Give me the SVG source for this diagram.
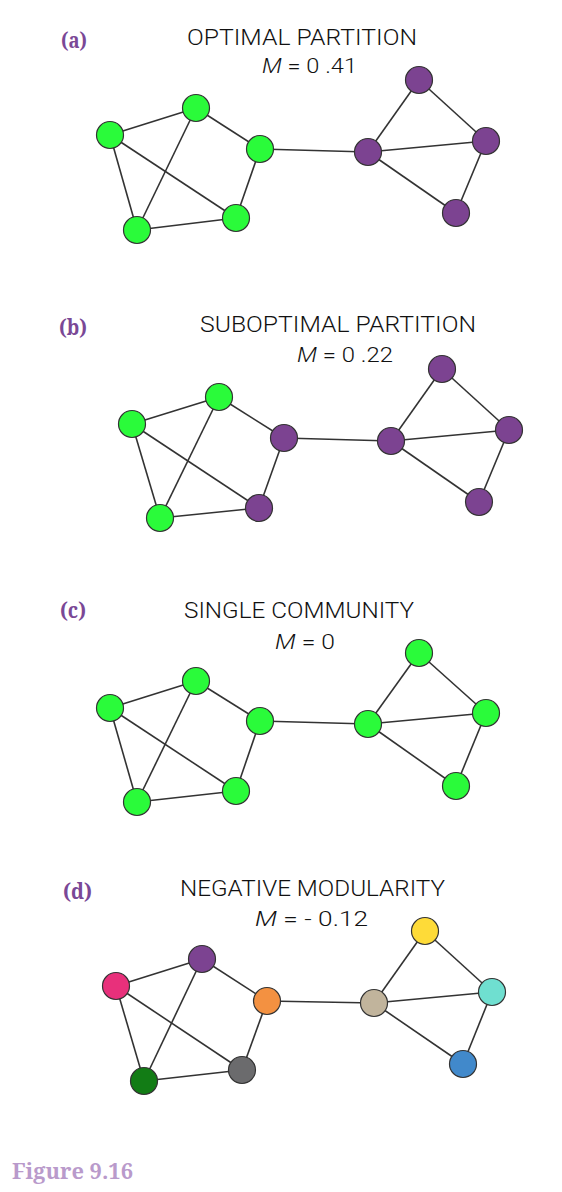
<svg xmlns="http://www.w3.org/2000/svg" width="562" height="1192" viewBox="0 0 562 1192">
<style>
.t{font-family:Roboto,"Liberation Sans",sans-serif;font-weight:300;font-size:22px;fill:#111}
.m{font-family:Roboto,"Liberation Sans",sans-serif;font-weight:300;font-size:21px;fill:#111}
.m tspan.i{font-style:italic}
.lab{font-family:"Noto Serif","DejaVu Serif","Liberation Serif",serif;font-weight:bold;font-size:22px;fill:#7a4896}
.fig{font-family:"Noto Serif","DejaVu Serif","Liberation Serif",serif;font-weight:bold;font-size:22px;fill:#b99acb}
.e line{stroke:#333;stroke-width:1.6}
circle{stroke:#333;stroke-width:1.2}
.g{fill:#2afb3a}.p{fill:#7c4391}
</style>
<rect width="562" height="1192" fill="#fff"/>

<!-- Panel a -->
<g id="panel-a-text">
<text class="lab" x="61" y="48" textLength="26" lengthAdjust="spacingAndGlyphs">(a)</text>
<text class="t" x="187" y="45" textLength="230" lengthAdjust="spacingAndGlyphs">OPTIMAL PARTITION</text>
<text class="m" x="262" y="73" textLength="95" lengthAdjust="spacingAndGlyphs"><tspan class="i">M</tspan> = 0 .41</text>
</g>
<g id="edges-a" class="e">
<line x1="110" y1="135" x2="196" y2="108"/><line x1="110" y1="135" x2="236" y2="218"/><line x1="110" y1="135" x2="137" y2="230"/>
<line x1="196" y1="108" x2="137" y2="230"/><line x1="196" y1="108" x2="260" y2="149"/><line x1="260" y1="149" x2="236" y2="218"/>
<line x1="236" y1="218" x2="137" y2="230"/><line x1="260" y1="149" x2="368" y2="152"/>
<line x1="368" y1="152" x2="419" y2="80"/><line x1="368" y1="152" x2="486" y2="141"/><line x1="368" y1="152" x2="456" y2="213"/>
<line x1="419" y1="80" x2="486" y2="141"/><line x1="486" y1="141" x2="456" y2="213"/>
</g>
<g id="a1"><circle class="g" cx="110" cy="135" r="13.5"/></g>
<g id="a2"><circle class="g" cx="196" cy="108" r="13.5"/></g>
<g id="a3"><circle class="g" cx="260" cy="149" r="13.5"/></g>
<g id="a4"><circle class="g" cx="236" cy="218" r="13.5"/></g>
<g id="a5"><circle class="g" cx="137" cy="230" r="13.5"/></g>
<g id="a6"><circle class="p" cx="368" cy="152" r="13.5"/></g>
<g id="a7"><circle class="p" cx="419" cy="80" r="13.5"/></g>
<g id="a8"><circle class="p" cx="486" cy="141" r="13.5"/></g>
<g id="a9"><circle class="p" cx="456" cy="213" r="13.5"/></g>

<!-- Panel b -->
<g id="panel-b-text">
<text class="lab" x="59" y="335" textLength="28" lengthAdjust="spacingAndGlyphs">(b)</text>
<text class="t" x="200" y="332" textLength="276" lengthAdjust="spacingAndGlyphs">SUBOPTIMAL PARTITION</text>
<text class="m" x="297" y="362" textLength="96" lengthAdjust="spacingAndGlyphs"><tspan class="i">M</tspan> = 0 .22</text>
</g>
<g id="edges-b" class="e">
<line x1="132" y1="424" x2="219" y2="397"/><line x1="132" y1="424" x2="259" y2="508"/><line x1="132" y1="424" x2="160" y2="518"/>
<line x1="219" y1="397" x2="160" y2="518"/><line x1="219" y1="397" x2="284" y2="438"/><line x1="284" y1="438" x2="259" y2="508"/>
<line x1="259" y1="508" x2="160" y2="518"/><line x1="284" y1="438" x2="391" y2="441"/>
<line x1="391" y1="441" x2="442" y2="369"/><line x1="391" y1="441" x2="509" y2="430"/><line x1="391" y1="441" x2="479" y2="502"/>
<line x1="442" y1="369" x2="509" y2="430"/><line x1="509" y1="430" x2="479" y2="502"/>
</g>
<g id="b1"><circle class="g" cx="132" cy="424" r="13.5"/></g>
<g id="b2"><circle class="g" cx="219" cy="397" r="13.5"/></g>
<g id="b3"><circle class="p" cx="284" cy="438" r="13.5"/></g>
<g id="b4"><circle class="p" cx="259" cy="508" r="13.5"/></g>
<g id="b5"><circle class="g" cx="160" cy="518" r="13.5"/></g>
<g id="b6"><circle class="p" cx="391" cy="441" r="13.5"/></g>
<g id="b7"><circle class="p" cx="442" cy="369" r="13.5"/></g>
<g id="b8"><circle class="p" cx="509" cy="430" r="13.5"/></g>
<g id="b9"><circle class="p" cx="479" cy="502" r="13.5"/></g>

<!-- Panel c -->
<g id="panel-c-text">
<text class="lab" x="60" y="618" textLength="26" lengthAdjust="spacingAndGlyphs">(c)</text>
<text class="t" x="184" y="618" textLength="230" lengthAdjust="spacingAndGlyphs">SINGLE COMMUNITY</text>
<text class="m" x="275" y="649" textLength="60" lengthAdjust="spacingAndGlyphs"><tspan class="i">M</tspan> = 0</text>
</g>
<g id="edges-c" class="e">
<line x1="110" y1="708" x2="196" y2="681"/><line x1="110" y1="708" x2="236" y2="791"/><line x1="110" y1="708" x2="137" y2="802"/>
<line x1="196" y1="681" x2="137" y2="802"/><line x1="196" y1="681" x2="260" y2="721"/><line x1="260" y1="721" x2="236" y2="791"/>
<line x1="236" y1="791" x2="137" y2="802"/><line x1="260" y1="721" x2="368" y2="724"/>
<line x1="368" y1="724" x2="419" y2="653"/><line x1="368" y1="724" x2="486" y2="713"/><line x1="368" y1="724" x2="456" y2="786"/>
<line x1="419" y1="653" x2="486" y2="713"/><line x1="486" y1="713" x2="456" y2="786"/>
</g>
<g id="c1"><circle class="g" cx="110" cy="708" r="13.5"/></g>
<g id="c2"><circle class="g" cx="196" cy="681" r="13.5"/></g>
<g id="c3"><circle class="g" cx="260" cy="721" r="13.5"/></g>
<g id="c4"><circle class="g" cx="236" cy="791" r="13.5"/></g>
<g id="c5"><circle class="g" cx="137" cy="802" r="13.5"/></g>
<g id="c6"><circle class="g" cx="368" cy="724" r="13.5"/></g>
<g id="c7"><circle class="g" cx="419" cy="653" r="13.5"/></g>
<g id="c8"><circle class="g" cx="486" cy="713" r="13.5"/></g>
<g id="c9"><circle class="g" cx="456" cy="786" r="13.5"/></g>

<!-- Panel d -->
<g id="panel-d-text">
<text class="lab" x="63" y="899" textLength="29" lengthAdjust="spacingAndGlyphs">(d)</text>
<text class="t" x="180" y="896" textLength="265" lengthAdjust="spacingAndGlyphs">NEGATIVE MODULARITY</text>
<text class="m" x="255" y="926" textLength="113" lengthAdjust="spacingAndGlyphs"><tspan class="i">M</tspan> =  - 0.12</text>
</g>
<g id="edges-d" class="e">
<line x1="116" y1="986" x2="202" y2="959"/><line x1="116" y1="986" x2="242" y2="1070"/><line x1="116" y1="986" x2="144" y2="1081"/>
<line x1="202" y1="959" x2="144" y2="1081"/><line x1="202" y1="959" x2="267" y2="1001"/><line x1="267" y1="1001" x2="242" y2="1070"/>
<line x1="242" y1="1070" x2="144" y2="1081"/><line x1="267" y1="1001" x2="374" y2="1003"/>
<line x1="374" y1="1003" x2="425" y2="931"/><line x1="374" y1="1003" x2="492" y2="992"/><line x1="374" y1="1003" x2="463" y2="1064"/>
<line x1="425" y1="931" x2="492" y2="992"/><line x1="492" y1="992" x2="463" y2="1064"/>
</g>
<g id="d1"><circle fill="#e8307b" cx="116" cy="986" r="13.5"/></g>
<g id="d2"><circle fill="#7c4391" cx="202" cy="959" r="13.5"/></g>
<g id="d3"><circle fill="#f39141" cx="267" cy="1001" r="13.5"/></g>
<g id="d4"><circle fill="#6b6b6d" cx="242" cy="1070" r="13.5"/></g>
<g id="d5"><circle fill="#127c15" cx="144" cy="1081" r="13.5"/></g>
<g id="d6"><circle fill="#c1b49c" cx="374" cy="1003" r="13.5"/></g>
<g id="d7"><circle fill="#fedb38" cx="425" cy="931" r="13.5"/></g>
<g id="d8"><circle fill="#6fdfd0" cx="492" cy="992" r="13.5"/></g>
<g id="d9"><circle fill="#4189cb" cx="463" cy="1064" r="13.5"/></g>

<g id="caption"><text class="fig" x="12" y="1179" textLength="121" lengthAdjust="spacingAndGlyphs">Figure 9.16</text></g>
</svg>
